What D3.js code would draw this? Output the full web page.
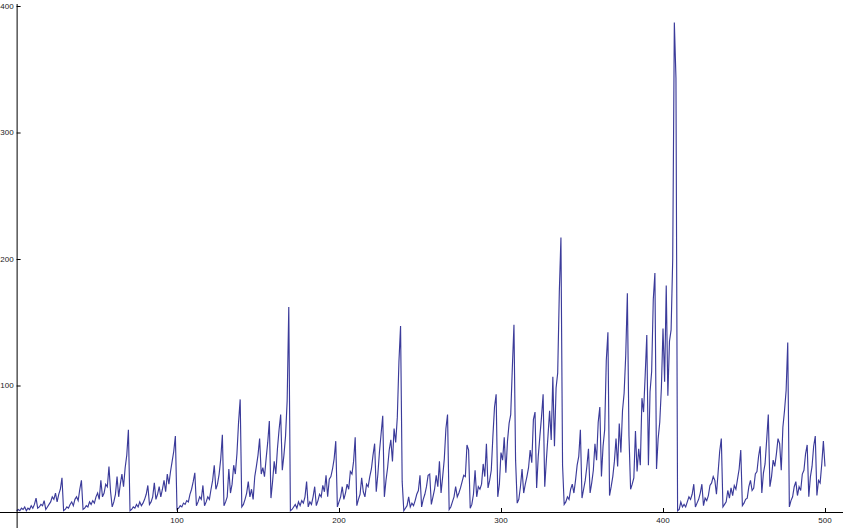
<!DOCTYPE html>
<html>
<head>
<meta charset="utf-8">
<script src="https://cdn.jsdelivr.net/npm/d3@7"></script>
<style>
	html, body { margin: 0; padding: 0; background: #fff; }
	svg { display: block; }
	.tick-label { font-family: 'Liberation Sans', Arial, sans-serif; font-size: 8px; fill: #1a1a1a; }
</style>
</head>
<body>
<svg id="chart" width="843" height="528"></svg>
<script>
// values, index n = 1..500, split by hundreds
const values_1_100 = [
	1,2,1,3,2,4,1,3,2,5,3,6,
	11,3,4,6,5,9,2,4,6,8,12,10,15,8,14,18,27,1,
	2,4,3,6,8,5,10,12,9,18,25,2,
	3,5,4,8,6,9,7,12,15,10,25,12,15,22,20,36,16,4,
	8,14,28,12,22,30,20,35,45,65,1,
	2,4,3,6,4,8,5,7,10,14,21,6,8,12,23,10,14,20,12,18,25,16,30,22,32,40,48,60,2
]
const values_101_200 = [
	3,5,4,7,6,9,8,14,18,24,31,5,8,12,10,21,5,
	8,12,10,18,25,37,18,22,30,42,61,5,
	8,12,34,15,22,37,30,46,71,89,4,
	6,10,15,24,12,18,10,28,36,45,58,30,35,28,42,55,72,11,24,40,30,50,65,77,33,45,60,88,162,1,
	2,4,6,3,8,5,9,7,12,24,4,8,6,12,20,5,9,14,12,21,16,29,12,26,28,34,42,56,4,8
]
const values_201_300 = [
	12,20,10,15,22,18,32,30,40,59,
	5,10,14,27,16,12,22,20,28,34,45,54,16,30,48,62,76,
	12,25,35,49,57,40,66,55,75,119,147,24,1,
	3,5,12,4,7,5,9,14,17,29,4,10,14,20,29,30,6,12,18,29,20,40,15,28,42,66,77,2,
	4,8,12,20,12,15,19,24,29,28,53,49,3,
	6,14,33,12,20,18,22,38,28,54,19,25,33,60,83,93,12,22,47
]
const values_301_400 = [
	41,59,31,56,70,77,114,148,41,7,
	10,20,34,15,22,28,35,49,39,73,79,19,44,60,75,93,20,41,60,80,57,107,52,98,110,174,217,37,6,
	8,12,10,18,22,15,25,37,44,65,11,18,25,36,50,15,23,33,54,41,71,83,28,52,65,120,142,13,20,28,40,58,36,70,47,80,94,124,173,60,18,
	22,27,64,32,50,37,90,79,108,140,37,95,111,168,189,34,58,71,98,145
]
const values_401_500 = [
	103,179,92,135,144,200,387,343,1,
	2,8,4,6,4,8,12,10,14,22,4,7,10,15,22,5,11,9,13,21,23,28,25,14,31,48,58,4,6,8,17,11,19,13,21,18,26,34,49,5,7,10,11,20,25,17,19,
	30,32,44,52,15,31,38,57,77,20,28,41,36,46,58,54,33,67,80,96,134,4,
	9,12,20,24,13,20,17,30,33,46,53,12,28,36,52,60,13,25,23,38,56,36
]

const x_ticks = [100, 200, 300, 400, 500]
const y_ticks = [100, 200, 300, 400]
const minor_step = 20

const W = 843, H = 528
const LINE = '#3b3b9a'
const AXIS = '#000'

const values = [].concat(values_1_100, values_101_200, values_201_300, values_301_400, values_401_500)
const data = values.map((v, i) => ({ n: i + 1, v }))

const x = d3.scaleLinear().domain([0, 500]).range([15, 825])
const y = d3.scaleLinear().domain([0, 400]).range([512, 6])

const svg = d3.select('#chart')

// series first, axes drawn on top like mathematica does
svg.append('path')
	.datum(data)
	.attr('fill', 'none')
	.attr('stroke', LINE)
	.attr('stroke-width', 1.15)
	.attr('stroke-linejoin', 'miter')
	.attr('d', d3.line().x(d => x(d.n)).y(d => y(d.v)))

const axis_x = x(1) // axes cross at x = 1
const axis_y = y(0)

// x axis: ticks point up into the plot
const gx = svg.append('g').attr('transform', `translate(0,${axis_y})`)
gx.call(d3.axisTop(x)
	.tickValues(d3.range(minor_step, 501, minor_step).filter(t => t % 100 !== 0))
	.tickSize(2.5).tickFormat(''))
gx.call(d3.axisTop(x).tickValues(x_ticks).tickSize(4).tickFormat(''))
gx.selectAll('.domain').remove()
gx.selectAll('line').attr('stroke', AXIS)
gx.append('line')
	.attr('x1', 0).attr('x2', W).attr('y1', 0.5).attr('y2', 0.5)
	.attr('stroke', AXIS)
gx.selectAll('.x-label')
	.data(x_ticks)
	.join('text')
	.attr('class', 'tick-label')
	.attr('x', d => x(d))
	.attr('y', 11)
	.attr('text-anchor', 'middle')
	.text(d => d)

// y axis: ticks point right
const gy = svg.append('g').attr('transform', `translate(${axis_x},0)`)
gy.call(d3.axisRight(y)
	.tickValues(d3.range(minor_step, 401, minor_step).filter(t => t % 100 !== 0))
	.tickSize(2.5).tickFormat(''))
gy.call(d3.axisRight(y).tickValues(y_ticks).tickSize(4).tickFormat(''))
gy.selectAll('.domain').remove()
gy.selectAll('line').attr('stroke', AXIS)
gy.append('line')
	.attr('x1', 0.5).attr('x2', 0.5).attr('y1', 4).attr('y2', H)
	.attr('stroke', AXIS)
gy.selectAll('.y-label')
	.data(y_ticks)
	.join('text')
	.attr('class', 'tick-label')
	.attr('x', -3)
	.attr('y', d => y(d))
	.attr('dy', '0.35em')
	.attr('text-anchor', 'end')
	.text(d => d)
</script>
</body>
</html>
